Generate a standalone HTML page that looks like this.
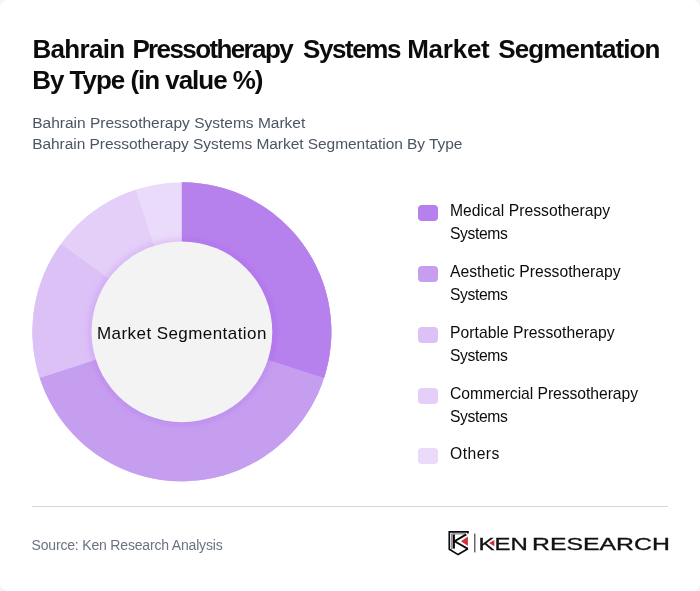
<!DOCTYPE html>
<html lang="en">
<head>
<meta charset="utf-8">
<title>Bahrain Pressotherapy Systems Market Segmentation By Type</title>
<style>
html,body{margin:0;padding:0;}
body{width:700px;height:591px;background:#f3f4f6;font-family:"Liberation Sans",sans-serif;overflow:hidden;position:relative;}
.card{position:absolute;left:0;top:0;width:700px;height:591px;background:#fff;border-radius:8px;}
h1{position:absolute;left:32.2px;top:34.1px;margin:0;font-size:26px;line-height:31.2px;font-weight:700;color:#0c0c0c;white-space:nowrap;}
h1 .a{letter-spacing:-0.81px;}h1 .w{position:absolute;top:0;}h1 .b{letter-spacing:-1.03px;}
.sub{position:absolute;left:32.2px;top:111.8px;font-size:15.5px;line-height:21.2px;color:#4b5563;white-space:nowrap;letter-spacing:0px;}
.chart{position:absolute;left:0;top:160px;}
.legend{position:absolute;left:418px;top:199px;}
.item{position:relative;height:45px;margin-bottom:16px;}
.sw{position:absolute;left:0;top:5.5px;width:20px;height:16px;border-radius:4px;}
.lb{position:absolute;left:32px;top:-0.4px;font-size:15.7px;line-height:23px;color:#0c0c0c;white-space:nowrap;letter-spacing:0.03px;}
.s2{letter-spacing:-0.4px;}
hr{position:absolute;left:32px;top:506px;width:636px;height:1px;border:0;margin:0;background:#d6d6e0;}
.src{position:absolute;left:31.6px;top:535.6px;font-size:14px;line-height:20px;color:#6b7280;white-space:nowrap;letter-spacing:-0.18px;transform:translateY(-0.9px);}
.logo{position:absolute;left:440px;top:522px;}
</style>
</head>
<body>
<div class="card">
<h1><span class="a"><span class="w" style="left:0.30px;letter-spacing:-0.677px;">Bahrain</span> <span class="w" style="left:100.20px;letter-spacing:-1.610px;">Pressotherapy</span> <span class="w" style="left:270.80px;letter-spacing:-1.410px;">Systems</span> <span class="w" style="left:375.00px;letter-spacing:-0.250px;">Market</span> <span class="w" style="left:466.10px;letter-spacing:-0.883px;">Segmentation</span></span><br><span class="b">By Type (in value %)</span></h1>
<div class="sub">Bahrain Pressotherapy Systems Market<br><span style="letter-spacing:-0.05px">Bahrain Pressotherapy Systems Market Segmentation By Type</span></div>
<svg class="chart" width="360" height="340" viewBox="0 160 360 340">
<defs><filter id="sh" x="-20%" y="-20%" width="140%" height="140%"><feGaussianBlur stdDeviation="4.5"/></filter></defs>
<g>
<circle cx="181.9" cy="331.8" r="149.45" fill="#ebdbfa"/>
<path d="M181.9 331.8L181.90 182.35A149.45 149.45 0 1 1 135.72 189.66Z" fill="#e4cff8"/>
<path d="M181.9 331.8L181.90 182.35A149.45 149.45 0 1 1 60.99 243.96Z" fill="#dcc1f7"/>
<path d="M181.9 331.8L181.90 182.35A149.45 149.45 0 1 1 39.76 377.98Z" fill="#c69ef0"/>
<path d="M181.9 331.8L181.90 182.35A149.45 149.45 0 0 1 324.04 377.98Z" fill="#b781ed"/>
</g>
<circle cx="181.9" cy="331.8" r="90.4" fill="rgb(138,43,226)" fill-opacity="0.28" filter="url(#sh)"/>
<circle cx="181.9" cy="331.8" r="90.4" fill="#f3f3f3"/>
<text x="181.9" y="338.5" text-anchor="middle" font-family="Liberation Sans, sans-serif" font-size="17" letter-spacing="0.43" fill="#0c0c0c">Market Segmentation</text>
</svg>
<div class="legend">
<div class="item"><span class="sw" style="background:#b781ed"></span><span class="lb">Medical Pressotherapy<br><span class="s2">Systems</span></span></div>
<div class="item"><span class="sw" style="background:#c69ef0"></span><span class="lb">Aesthetic Pressotherapy<br><span class="s2">Systems</span></span></div>
<div class="item"><span class="sw" style="background:#dcc1f7"></span><span class="lb">Portable Pressotherapy<br><span class="s2">Systems</span></span></div>
<div class="item"><span class="sw" style="background:#e4cff8"></span><span class="lb" style="letter-spacing:-0.05px">Commercial Pressotherapy<br><span class="s2">Systems</span></span></div>
<div class="item" style="top:-0.8px"><span class="sw" style="background:#ebdbfa"></span><span class="lb" style="letter-spacing:0.45px">Others</span></div>
</div>
<hr>
<div class="src">Source: Ken Research Analysis</div>
<svg class="logo" width="240" height="44" viewBox="440 522 240 44">
<path d="M467.9 533.5 L467.9 531.9 L449.3 531.9 L449.3 549.2 L458.1 554.6 L467.9 548.8" fill="none" stroke="#0a0a0a" stroke-width="1.7" stroke-linejoin="miter"/>
<path d="M451.8 549.6 V533.9 H465.5" fill="none" stroke="#222" stroke-width="0.7"/>
<path d="M453.8 534.6 V548.6" fill="none" stroke="#0a0a0a" stroke-width="2.2"/>
<path d="M466.3 534.4 L454.6 541.3 L467.9 548.8" fill="none" stroke="#0a0a0a" stroke-width="1.9"/>
<path d="M461 541.3 L467.9 536.6 L467.9 545.9 Z" fill="#cf2e3a"/>
<rect x="474.2" y="533.6" width="1.2" height="18.8" fill="#444"/>
<text font-family="Liberation Sans, sans-serif" font-size="16.3" fill="#111" stroke="#111" stroke-width="0.3"><tspan x="478.5" y="549.5" textLength="49.2" lengthAdjust="spacingAndGlyphs">KEN</tspan><tspan> </tspan><tspan x="532" y="549.5" textLength="137.9" lengthAdjust="spacingAndGlyphs">RESEARCH</tspan></text>
<path d="M489.2 543.1 L494.3 539.9 L494.3 546.3 Z" fill="#cf2e3a"/>
</svg>
</div>
</body>
</html>
